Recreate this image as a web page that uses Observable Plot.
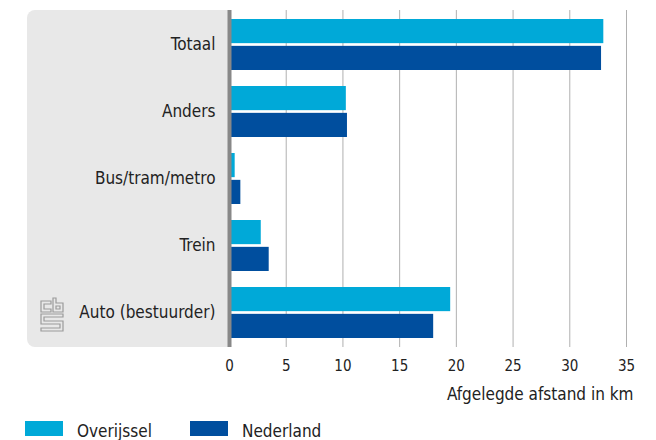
<!DOCTYPE html>
<html>
<head>
<meta charset="utf-8">
<script src="https://cdn.jsdelivr.net/npm/d3@7"></script>
<script src="https://cdn.jsdelivr.net/npm/@observablehq/plot@0.6"></script>
<style>
  html, body { margin: 0; padding: 0; background: #fff; }
  body, svg, text { font-family: "DejaVu Sans Condensed", "DejaVu Sans", sans-serif; font-stretch: condensed; }
  #legend { position: relative; width: 656px; height: 35px; color: #222; font-size: 17px; }
  #legend .sw { position: absolute; top: 16px; width: 38px; height: 15px; }
  #legend .lb { position: absolute; top: 17.6px; line-height: 17px; white-space: nowrap; }
</style>
</head>
<body>
<div id="chart"></div>
<div id="legend"></div>
<script>
const categories = ["Totaal", "Anders", "Bus/tram/metro", "Trein", "Auto (bestuurder)"];
const series = ["Overijssel", "Nederland"];
const overijssel = [33.0, 10.3, 0.5, 2.8, 19.5];
const nederland = [32.8, 10.4, 1.0, 3.5, 18.0];
const xTicks = [0, 5, 10, 15, 20, 25, 30, 35];
const xLabel = "Afgelegde afstand in km";
const colors = ["#00a9d8", "#004e9e"];

const W = 656, H = 405, mt = 10, mb = 58, ml = 229, mr = 30;
const pInner = 0.233, pOuter = pInner / 2;
const step = (H - mt - mb) / (categories.length - pInner + 2 * pOuter);
const bw = step * (1 - pInner);
const halfInset = bw / 2 + 1;

const ovData = categories.map((c, i) => ({category: c, value: overijssel[i]}));
const nlData = categories.map((c, i) => ({category: c, value: nederland[i]}));

function panel(index, scales, values, dims) {
  const g = d3.create("svg:g");
  const x0 = 27, y0 = dims.marginTop, x1 = dims.marginLeft, y1 = dims.height - dims.marginBottom, r = 8;
  g.append("path")
    .attr("fill", "#e8e8e8")
    .attr("d", `M${x0 + r},${y0}H${x1}V${y1}H${x0 + r}A${r},${r} 0 0 1 ${x0},${y1 - r}V${y0 + r}A${r},${r} 0 0 1 ${x0 + r},${y0}Z`);
  const logo = g.append("g")
    .attr("transform", `translate(40,${y1 - 50})`)
    .attr("fill", "none").attr("stroke", "#9a9a9a").attr("stroke-width", 1.2);
  logo.append("path").attr("d", "M11,4H1V15H11V12H4V7H11Z");
  logo.append("path").attr("d", "M13,1H16V6H23V15H13Z");
  logo.append("path").attr("d", "M16,9H20V12H16Z");
  logo.append("path").attr("d", "M1,17H23V20H4V24H23V34H1V31H20V27H1Z");
  return g.node();
}

const chart = Plot.plot({
  width: W, height: H,
  marginTop: mt, marginBottom: mb, marginLeft: ml, marginRight: mr,
  style: {background: "transparent", color: "#222", fontSize: "17px"},
  x: {domain: [0, 35]},
  y: {domain: categories, paddingInner: pInner, paddingOuter: pOuter},
  marks: [
    panel,
    Plot.ruleX(xTicks.filter(d => d > 0), {stroke: "#b0b0b0", strokeWidth: 1}),
    Plot.barX(ovData, {x: "value", y: "category", fill: colors[0], insetBottom: halfInset}),
    Plot.barX(nlData, {x: "value", y: "category", fill: colors[1], insetTop: halfInset}),
    Plot.ruleX([0], {stroke: "#888", strokeWidth: 4}),
    Plot.axisY({tickSize: 0, tickPadding: 14, fontSize: 17, label: null}),
    Plot.axisX(xTicks, {tickSize: 0, tickPadding: 13, fontSize: 15, label: null}),
    Plot.text([xLabel], {text: d => d, frameAnchor: "bottom-right", textAnchor: "end", lineAnchor: "top", dx: 7, dy: 40, fontSize: 17, fill: "#222"})
  ]
});
document.getElementById("chart").appendChild(chart);

const legend = document.getElementById("legend");
const legX = [25, 190];
series.forEach((s, i) => {
  const sw = document.createElement("div");
  sw.className = "sw";
  sw.style.left = legX[i] + "px";
  sw.style.background = colors[i];
  legend.appendChild(sw);
  const lb = document.createElement("span");
  lb.className = "lb";
  lb.style.left = (legX[i] + 52) + "px";
  lb.textContent = s;
  legend.appendChild(lb);
});
</script>
</body>
</html>
